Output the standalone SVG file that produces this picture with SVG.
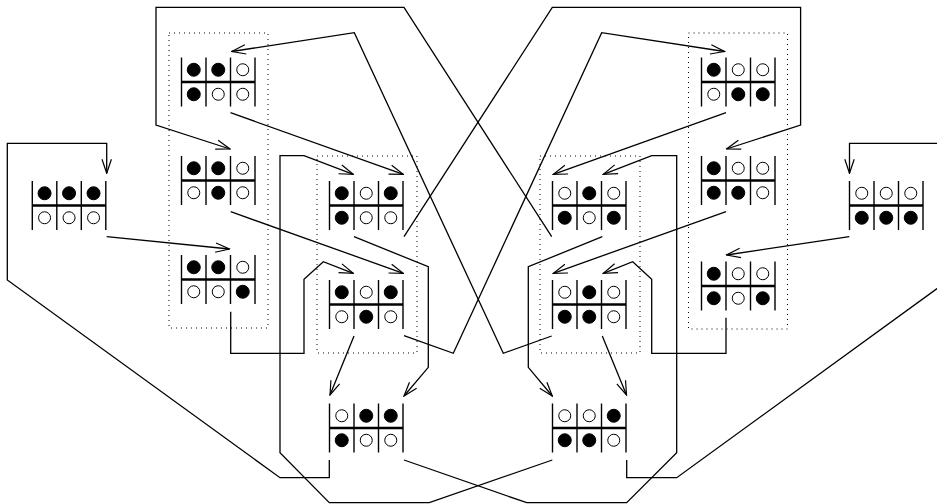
<svg xmlns="http://www.w3.org/2000/svg" width="937" height="504" viewBox="0 0 937 504">
<style>
.bg{fill:#fff}
.v{stroke:#000;stroke-width:1.4}
.h{stroke:#000;stroke-width:2.3}
.f{fill:#000;stroke:#000;stroke-width:1}
.o{fill:#fff;stroke:#000;stroke-width:1}
.box{fill:none;stroke:#000;stroke-width:1;stroke-dasharray:1 4}
.e{fill:none;stroke:#000;stroke-width:1.3;marker-end:url(#a)}
</style>
<defs>
<marker id="a" viewBox="0 0 16 12" refX="15" refY="6" markerWidth="16" markerHeight="12" orient="auto" markerUnits="userSpaceOnUse">
<path d="M1,1.3 L15,6 L1,10.7" fill="none" stroke="#000" stroke-width="1.2"/>
</marker>
<g id="grid">
<line class="v" x1="0" y1="0" x2="0" y2="49"/>
<line class="v" x1="24.5" y1="0" x2="24.5" y2="49"/>
<line class="v" x1="49" y1="0" x2="49" y2="49"/>
<line class="v" x1="73.5" y1="0" x2="73.5" y2="49"/>
<line class="h" x1="0" y1="24.5" x2="73.5" y2="24.5"/>
</g>
</defs>
<rect class="bg" x="0" y="0" width="937" height="504"/>

<g id="groups">
<rect class="box" x="169" y="33" width="99" height="295"/>
<rect class="box" x="317" y="156" width="100" height="197"/>
<rect class="box" x="540" y="156" width="100" height="197"/>
<rect class="box" x="688.5" y="33" width="99" height="296"/>
</g>

<g id="connectors">
<polyline class="e" points="106.7,236.7 229.5,249"/>
<polyline class="e" points="230.5,112.7 403.3,174.3"/>
<polyline class="e" points="230.7,211.7 403.3,273.3"/>
<polyline class="e" points="230.7,311.7 230.7,353.3 304,353.3 304,279.3 323.3,261.7 353.3,273.3"/>
<polyline class="e" points="354,236.7 428.3,266.7 428.3,367.3 404,396"/>
<polyline class="e" points="404,236.7 552.3,7.3 800.6,7.3 800.6,125 726.5,149"/>
<polyline class="e" points="354,336 330,395"/>
<polyline class="e" points="404,335.7 453.3,353.3 601.7,32.7 724.5,51.5"/>
<polyline class="e" points="329.3,460 329.3,477.7 280,477.7 7.3,280 7.3,143.3 106.7,143.3 106.7,173.3"/>
<polyline class="e" points="404,460 526.7,502.7 626.7,502.7 676.7,452.7 676.7,155.7 651.7,155.7 603.3,174.3"/>
<polyline class="e" points="551.7,236.7 404,7.3 156,7.3 156,125 230,149"/>
<polyline class="e" points="602.3,236.7 528.3,266.7 528.3,367.3 552.3,396"/>
<polyline class="e" points="551.7,336 503.3,353.3 354.3,32.7 231.7,51.5"/>
<polyline class="e" points="602.3,336 626.5,395"/>
<polyline class="e" points="726,112.7 553.3,174.3"/>
<polyline class="e" points="726,211.7 553.3,273.3"/>
<polyline class="e" points="726,317.7 726,353.3 651.7,353.3 651.7,279.3 632.7,261.7 603.3,273.3"/>
<polyline class="e" points="552.3,460 429.3,502.7 329.3,502.7 280,452.7 280,155.7 304,155.7 353.3,174.3"/>
<polyline class="e" points="626.7,460 626.7,477.7 676.7,477.7 948.9,280 948.9,143.3 849.5,143.3 849.5,173.3"/>
<polyline class="e" points="849.3,236.7 726.5,255"/>
</g>

<g id="L" transform="translate(32.3,181)">
<use href="#grid"/>
<circle class="f" cx="12.25" cy="12.25" r="6.5"/><circle class="f" cx="36.75" cy="12.25" r="6.5"/><circle class="f" cx="61.25" cy="12.25" r="6.5"/>
<circle class="o" cx="12.25" cy="36.75" r="6"/><circle class="o" cx="36.75" cy="36.75" r="6"/><circle class="o" cx="61.25" cy="36.75" r="6"/>
</g>
<g id="A1" transform="translate(181.5,57.5)">
<use href="#grid"/>
<circle class="f" cx="12.25" cy="12.25" r="6.5"/><circle class="f" cx="36.75" cy="12.25" r="6.5"/><circle class="o" cx="61.25" cy="12.25" r="6"/>
<circle class="f" cx="12.25" cy="36.75" r="6.5"/><circle class="o" cx="36.75" cy="36.75" r="6"/><circle class="o" cx="61.25" cy="36.75" r="6"/>
</g>
<g id="A2" transform="translate(181.5,156)">
<use href="#grid"/>
<circle class="f" cx="12.25" cy="12.25" r="6.5"/><circle class="f" cx="36.75" cy="12.25" r="6.5"/><circle class="o" cx="61.25" cy="12.25" r="6"/>
<circle class="o" cx="12.25" cy="36.75" r="6"/><circle class="f" cx="36.75" cy="36.75" r="6.5"/><circle class="o" cx="61.25" cy="36.75" r="6"/>
</g>
<g id="A3" transform="translate(181.5,255)">
<use href="#grid"/>
<circle class="f" cx="12.25" cy="12.25" r="6.5"/><circle class="f" cx="36.75" cy="12.25" r="6.5"/><circle class="o" cx="61.25" cy="12.25" r="6"/>
<circle class="o" cx="12.25" cy="36.75" r="6"/><circle class="o" cx="36.75" cy="36.75" r="6"/><circle class="f" cx="61.25" cy="36.75" r="6.5"/>
</g>
<g id="B1" transform="translate(329.5,181)">
<use href="#grid"/>
<circle class="f" cx="12.25" cy="12.25" r="6.5"/><circle class="o" cx="36.75" cy="12.25" r="6"/><circle class="f" cx="61.25" cy="12.25" r="6.5"/>
<circle class="f" cx="12.25" cy="36.75" r="6.5"/><circle class="o" cx="36.75" cy="36.75" r="6"/><circle class="o" cx="61.25" cy="36.75" r="6"/>
</g>
<g id="B2" transform="translate(329.5,280)">
<use href="#grid"/>
<circle class="f" cx="12.25" cy="12.25" r="6.5"/><circle class="o" cx="36.75" cy="12.25" r="6"/><circle class="f" cx="61.25" cy="12.25" r="6.5"/>
<circle class="o" cx="12.25" cy="36.75" r="6"/><circle class="f" cx="36.75" cy="36.75" r="6.5"/><circle class="o" cx="61.25" cy="36.75" r="6"/>
</g>
<g id="C" transform="translate(329.5,403.5)">
<use href="#grid"/>
<circle class="o" cx="12.25" cy="12.25" r="6"/><circle class="f" cx="36.75" cy="12.25" r="6.5"/><circle class="f" cx="61.25" cy="12.25" r="6.5"/>
<circle class="f" cx="12.25" cy="36.75" r="6.5"/><circle class="o" cx="36.75" cy="36.75" r="6"/><circle class="o" cx="61.25" cy="36.75" r="6"/>
</g>
<g id="D1" transform="translate(552.5,181)">
<use href="#grid"/>
<circle class="o" cx="12.25" cy="12.25" r="6"/><circle class="f" cx="36.75" cy="12.25" r="6.5"/><circle class="o" cx="61.25" cy="12.25" r="6"/>
<circle class="f" cx="12.25" cy="36.75" r="6.5"/><circle class="o" cx="36.75" cy="36.75" r="6"/><circle class="f" cx="61.25" cy="36.75" r="6.5"/>
</g>
<g id="D2" transform="translate(552.5,280)">
<use href="#grid"/>
<circle class="o" cx="12.25" cy="12.25" r="6"/><circle class="f" cx="36.75" cy="12.25" r="6.5"/><circle class="o" cx="61.25" cy="12.25" r="6"/>
<circle class="f" cx="12.25" cy="36.75" r="6.5"/><circle class="f" cx="36.75" cy="36.75" r="6.5"/><circle class="o" cx="61.25" cy="36.75" r="6"/>
</g>
<g id="F" transform="translate(552.5,403.5)">
<use href="#grid"/>
<circle class="o" cx="12.25" cy="12.25" r="6"/><circle class="o" cx="36.75" cy="12.25" r="6"/><circle class="f" cx="61.25" cy="12.25" r="6.5"/>
<circle class="f" cx="12.25" cy="36.75" r="6.5"/><circle class="f" cx="36.75" cy="36.75" r="6.5"/><circle class="o" cx="61.25" cy="36.75" r="6"/>
</g>
<g id="E1" transform="translate(701.5,57.5)">
<use href="#grid"/>
<circle class="f" cx="12.25" cy="12.25" r="6.5"/><circle class="o" cx="36.75" cy="12.25" r="6"/><circle class="o" cx="61.25" cy="12.25" r="6"/>
<circle class="o" cx="12.25" cy="36.75" r="6"/><circle class="f" cx="36.75" cy="36.75" r="6.5"/><circle class="f" cx="61.25" cy="36.75" r="6.5"/>
</g>
<g id="E2" transform="translate(701.5,156)">
<use href="#grid"/>
<circle class="f" cx="12.25" cy="12.25" r="6.5"/><circle class="o" cx="36.75" cy="12.25" r="6"/><circle class="o" cx="61.25" cy="12.25" r="6"/>
<circle class="f" cx="12.25" cy="36.75" r="6.5"/><circle class="f" cx="36.75" cy="36.75" r="6.5"/><circle class="o" cx="61.25" cy="36.75" r="6"/>
</g>
<g id="E3" transform="translate(701.5,261.5)">
<use href="#grid"/>
<circle class="f" cx="12.25" cy="12.25" r="6.5"/><circle class="o" cx="36.75" cy="12.25" r="6"/><circle class="o" cx="61.25" cy="12.25" r="6"/>
<circle class="f" cx="12.25" cy="36.75" r="6.5"/><circle class="o" cx="36.75" cy="36.75" r="6"/><circle class="f" cx="61.25" cy="36.75" r="6.5"/>
</g>
<g id="R" transform="translate(849.5,181)">
<use href="#grid"/>
<circle class="o" cx="12.25" cy="12.25" r="6"/><circle class="o" cx="36.75" cy="12.25" r="6"/><circle class="o" cx="61.25" cy="12.25" r="6"/>
<circle class="f" cx="12.25" cy="36.75" r="6.5"/><circle class="f" cx="36.75" cy="36.75" r="6.5"/><circle class="f" cx="61.25" cy="36.75" r="6.5"/>
</g>
</svg>
